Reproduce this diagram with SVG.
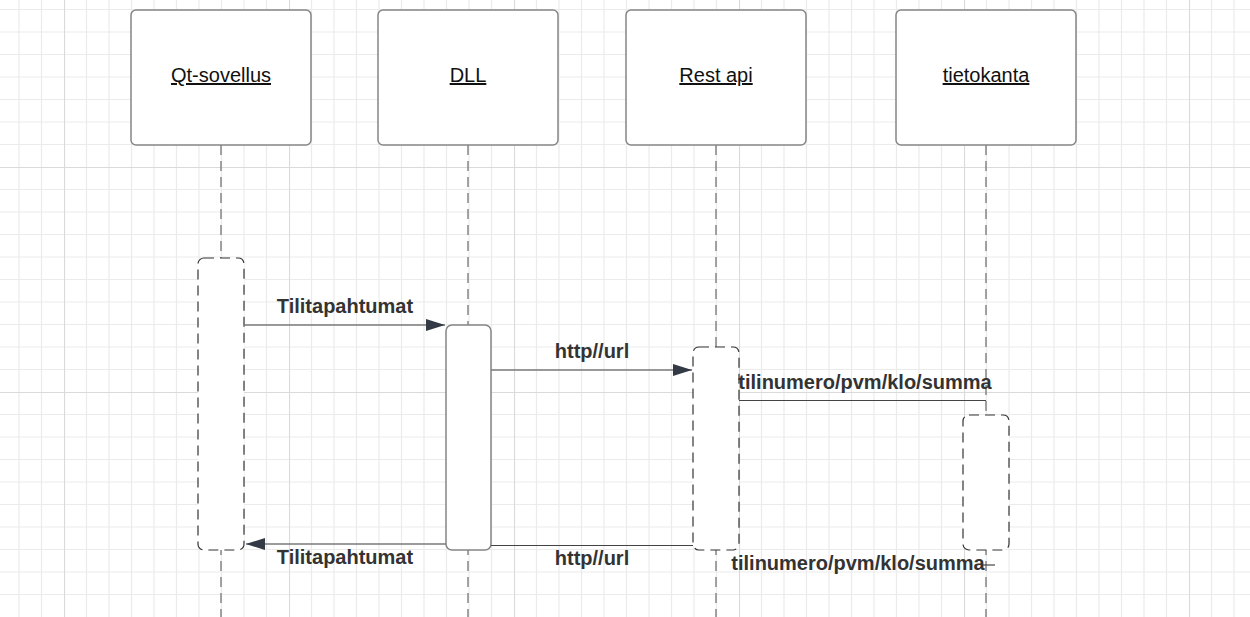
<svg xmlns="http://www.w3.org/2000/svg" width="1250" height="617" viewBox="0 0 1250 617">
  <defs>
    <pattern id="grid" patternUnits="userSpaceOnUse" x="-161" y="-58" width="225" height="225">
      <g stroke="#ebebeb" stroke-width="1.2">
        <path d="M22.5,0V225M45,0V225M67.5,0V225M90,0V225M112.5,0V225M135,0V225M157.5,0V225M180,0V225M202.5,0V225"/>
        <path d="M0,22.5H225M0,45H225M0,67.5H225M0,90H225M0,112.5H225M0,135H225M0,157.5H225M0,180H225M0,202.5H225"/>
      </g>
      <path d="M0,0V225M0,0H225" stroke="#dadada" stroke-width="2.2"/>
    </pattern>
    <marker id="arrow" markerUnits="userSpaceOnUse" markerWidth="20" markerHeight="13" refX="19" refY="6" orient="auto">
      <path d="M0,0 L19,6 L0,12 z" fill="#333a46"/>
    </marker>
    <style>
      .head { fill: #ffffff; stroke: #858585; stroke-width: 1.5; }
      .htxt { font-family: "Liberation Sans", Arial, sans-serif; font-size: 20px; fill: #111; text-anchor: middle; text-decoration: underline; }
      .life { stroke: #858585; stroke-width: 1.5; stroke-dasharray: 10 6; fill: none; }
      .act { fill: #ffffff; stroke: #333; stroke-width: 1.2; stroke-dasharray: 10 6; }
      .actsolid { fill: #ffffff; stroke: #858585; stroke-width: 1.5; }
      .msg { stroke: #7a7a7a; stroke-width: 1.5; fill: none; }
      .msgdark { stroke: #444; stroke-width: 1.2; fill: none; }
      .lbl { font-family: "Liberation Sans", Arial, sans-serif; font-size: 20px; font-weight: bold; fill: #333; text-anchor: middle; }
    </style>
  </defs>
  <rect x="0" y="0" width="1250" height="617" fill="#ffffff"/>
  <rect x="0" y="0" width="1250" height="617" fill="url(#grid)"/>

  <g id="lifelines">
    <line class="life" x1="221" y1="145" x2="221" y2="617"/>
    <line class="life" x1="468" y1="145" x2="468" y2="617"/>
    <line class="life" x1="716" y1="145" x2="716" y2="617"/>
    <line class="life" x1="986" y1="145" x2="986" y2="617"/>
  </g>

  <g id="node-qt">
    <rect class="head" x="131" y="10" width="180" height="135" rx="5"/>
    <text class="htxt" x="221" y="82">Qt-sovellus</text>
    <rect class="act" x="198" y="258" width="46" height="292" rx="6"/>
  </g>
  <g id="node-dll">
    <rect class="head" x="378" y="10" width="180" height="135" rx="5"/>
    <text class="htxt" x="468" y="82">DLL</text>
    <rect class="actsolid" x="446" y="325" width="45" height="225" rx="6"/>
  </g>
  <g id="node-rest">
    <rect class="head" x="626" y="10" width="180" height="135" rx="5"/>
    <text class="htxt" x="716" y="82">Rest api</text>
    <rect class="act" x="693" y="347" width="46" height="203" rx="6"/>
  </g>
  <g id="node-db">
    <rect class="head" x="896" y="10" width="180" height="135" rx="5"/>
    <text class="htxt" x="986" y="82">tietokanta</text>
    <rect class="act" x="963" y="415" width="46" height="135" rx="6"/>
  </g>

  <g id="connectors">
    <line class="msg" x1="244" y1="325" x2="445" y2="325" marker-end="url(#arrow)"/>
    <text class="lbl" x="345" y="313">Tilitapahtumat</text>

    <line class="msg" x1="491" y1="370" x2="692" y2="370" marker-end="url(#arrow)"/>
    <text class="lbl" x="592" y="358">http//url</text>

    <line class="msgdark" x1="739" y1="400.5" x2="986" y2="400.5"/>
    <text class="lbl" x="865" y="389">tilinumero/pvm/klo/summa</text>

    <line class="msg" x1="446" y1="544" x2="246" y2="544" marker-end="url(#arrow)"/>
    <text class="lbl" x="345" y="564">Tilitapahtumat</text>

    <line class="msgdark" x1="693" y1="545.5" x2="491" y2="545.5"/>
    <text class="lbl" x="592" y="565">http//url</text>

    <line class="msgdark" x1="995" y1="565" x2="983" y2="565"/>
    <text class="lbl" x="858" y="570">tilinumero/pvm/klo/summa</text>
  </g>
</svg>
